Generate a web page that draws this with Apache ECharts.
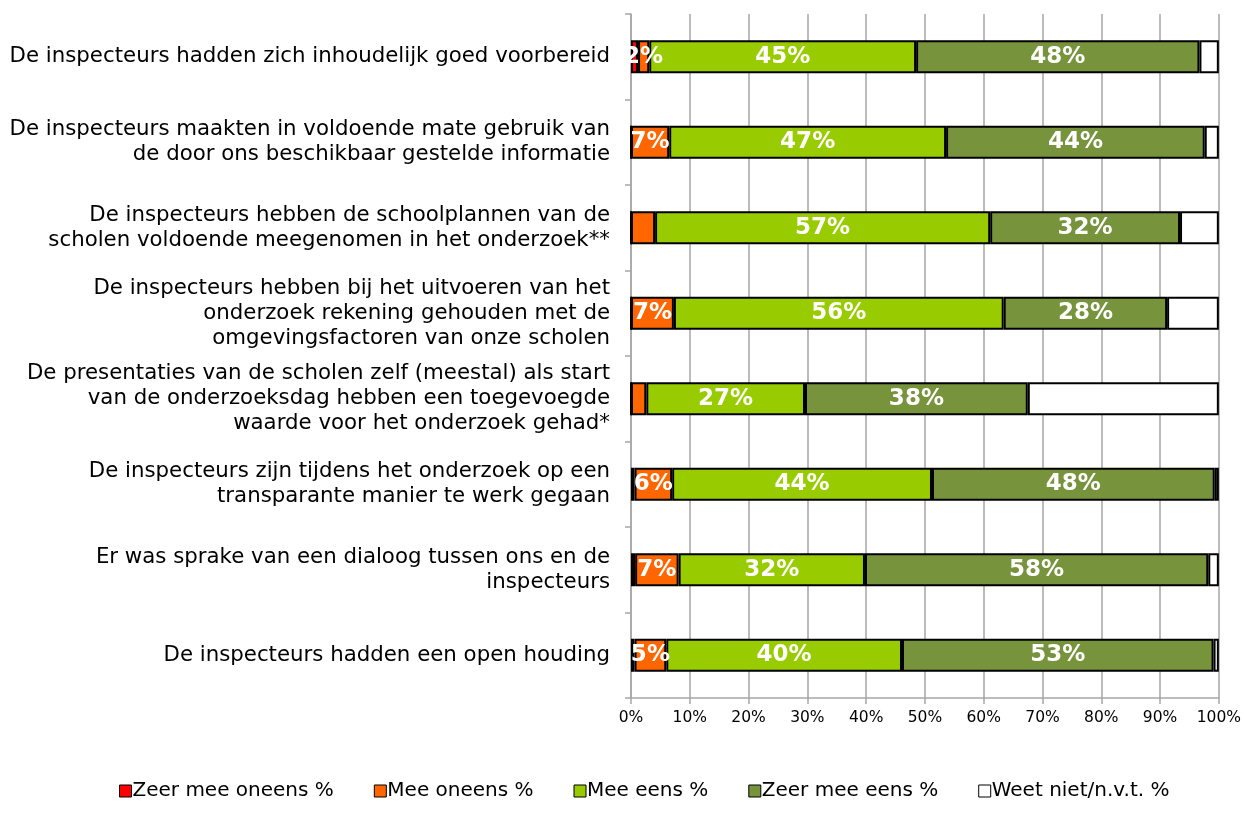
<!DOCTYPE html>
<html><head><meta charset="utf-8">
<script src="https://cdn.jsdelivr.net/npm/echarts@6/dist/echarts.min.js"></script>
<style>html,body{margin:0;padding:0;background:#fff}#c{width:1244px;height:828px}</style>
</head><body><div id="c"></div>
<script>
const categories = [
  "De inspecteurs hadden zich inhoudelijk goed voorbereid",
  "De inspecteurs maakten in voldoende mate gebruik van\nde door ons beschikbaar gestelde informatie",
  "De inspecteurs hebben de schoolplannen van de\nscholen voldoende meegenomen in het onderzoek**",
  "De inspecteurs hebben bij het uitvoeren van het\nonderzoek rekening gehouden met de\nomgevingsfactoren van onze scholen",
  "De presentaties van de scholen zelf (meestal) als start\nvan de onderzoeksdag hebben een toegevoegde\nwaarde voor het onderzoek gehad*",
  "De inspecteurs zijn tijdens het onderzoek op een\ntransparante manier te werk gegaan",
  "Er was sprake van een dialoog tussen ons en de\ninspecteurs",
  "De inspecteurs hadden een open houding"
];
const seriesNames = ["Zeer mee oneens %", "Mee oneens %", "Mee eens %", "Zeer mee eens %", "Weet niet/n.v.t. %"];
const zeerMeeOneens = [1.2, 0, 0, 0, 0, 0.6, 0.7, 0.6];
const meeOneens     = [1.9, 6.5, 4.1, 7.3, 2.6, 6.4, 7.4, 5.4];
const meeEens       = [45.4, 47.1, 57.0, 56.1, 27.0, 44.2, 31.7, 40.1];
const zeerMeeEens   = [48.2, 44.0, 32.3, 27.8, 37.9, 48.1, 58.4, 53.0];
const weetNiet      = [3.3, 2.4, 6.6, 8.8, 32.5, 0.7, 1.8, 0.9];
const xTickLabels = ["0%","10%","20%","30%","40%","50%","60%","70%","80%","90%","100%"];
// labels shown in the reference (series index -> category indices)
const shownLabels = { 1: [0, 1, 3, 5, 6, 7], 2: [0,1,2,3,4,5,6,7], 3: [0,1,2,3,4,5,6,7] };

const colors = ["#FF0000", "#FF6600", "#99CC00", "#77933C", "#FFFFFF"];
const allData = [zeerMeeOneens, meeOneens, meeEens, zeerMeeEens, weetNiet];
const FONT = "DejaVu Sans";

const chart = echarts.init(document.getElementById('c'), null, {renderer: 'canvas'});
chart.setOption({
  animation: false,
  textStyle: {fontFamily: FONT},
  grid: {left: 631, right: 25, top: 14, bottom: 130, containLabel: false},
  xAxis: {
    type: 'value', min: 0, max: 100, interval: 10,
    axisLine: {show: true, lineStyle: {color: '#A6A6A6', width: 1.5}},
    axisTick: {show: true, length: 6, lineStyle: {color: '#A6A6A6', width: 1.5}},
    splitLine: {show: true, lineStyle: {color: '#A6A6A6', width: 1.5}},
    axisLabel: {fontFamily: FONT, fontSize: 15.5, color: '#000', margin: 12,
      formatter: (v) => xTickLabels[Math.round(v / 10)]}
  },
  yAxis: {
    type: 'category', data: categories, inverse: true,
    axisLine: {show: true, lineStyle: {color: '#A6A6A6', width: 1.5}},
    axisTick: {show: true, length: 6, lineStyle: {color: '#A6A6A6', width: 1.5}},
    axisLabel: {fontFamily: FONT, fontSize: 21.3, color: '#000', margin: 21, lineHeight: 25, align: 'right'}
  },
  legend: {
    bottom: 22, left: 114, itemWidth: 12, itemHeight: 12, itemGap: 40,
    icon: 'rect',
    textStyle: {fontFamily: FONT, fontSize: 20, color: '#000', padding: [0,0,0,-4]},
    data: seriesNames.map((n, i) => ({name: n, itemStyle: {color: colors[i], borderColor: '#000', borderWidth: 1}}))
  },
  series: allData.map((arr, si) => ({
    name: seriesNames[si], type: 'bar', stack: 'total', barWidth: 33,
    itemStyle: {color: colors[si], borderColor: '#000', borderWidth: 2},
    data: arr.map((v, ci) => ({
      value: v,
      label: {show: !!(shownLabels[si] && shownLabels[si].includes(ci)) && v > 0}
    })),
    label: {position: 'inside', color: '#fff', fontFamily: FONT, fontWeight: 'bold', fontSize: 23,
      formatter: (p) => Math.round(p.value) + '%'}
  }))
});
</script>
</body></html>
